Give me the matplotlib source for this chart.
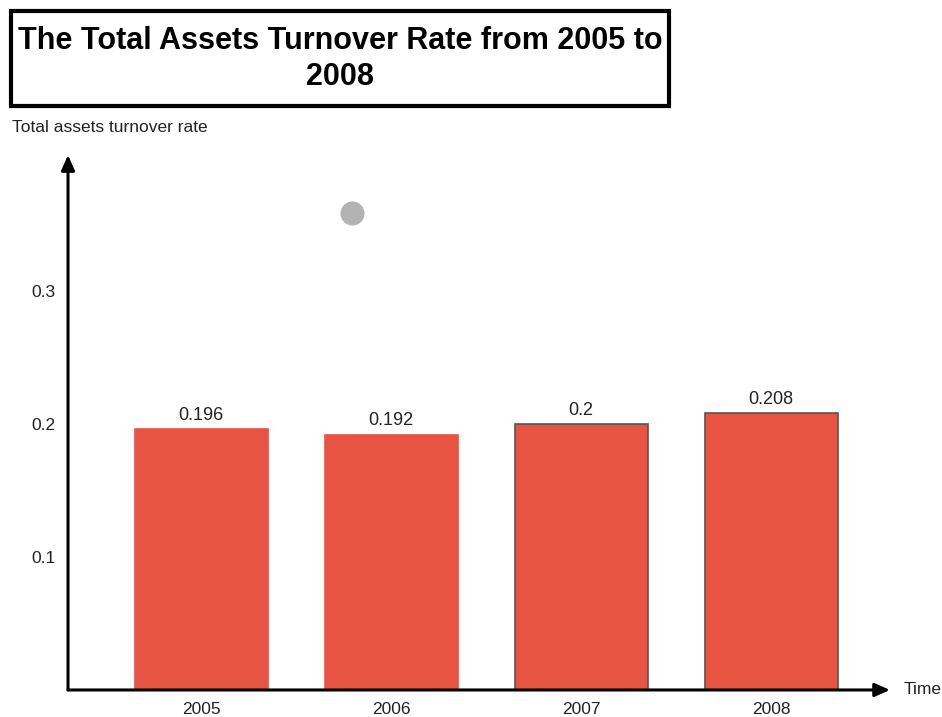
import matplotlib
matplotlib.use("Agg")
from matplotlib import pyplot as plt
from matplotlib.patches import Rectangle

plt.rcParams['font.family'] = ['Liberation Sans', 'DejaVu Sans']

years = ['2005', '2006', '2007', '2008']
turnover = [0.196, 0.192, 0.2, 0.208]
value_labels = ['0.196', '0.192', '0.2', '0.208']
y_ticks = [0.1, 0.2, 0.3]
dot_x = [0.795]
dot_y = [0.359]

bar_color = '#e85442'
edge_colors = [bar_color, bar_color, '#555555', '#555555']

fig = plt.figure(figsize=(9.42, 7.17), dpi=100)
ax = fig.add_axes([0.0722, 0.0377, 0.8726, 0.746])

xs = range(len(years))
bars = ax.bar(xs, turnover, width=0.7, color=bar_color, edgecolor=edge_colors, linewidth=1.2, zorder=2)
for b, lab in zip(bars, value_labels):
    ax.text(b.get_x() + b.get_width() / 2, b.get_height() + 0.004, lab,
            ha='center', va='bottom', fontsize=13, color='#222222')

ax.scatter(dot_x, dot_y, s=300, color='#b3b3b3', zorder=3, linewidths=0)

ax.set_xlim(-0.70, 3.626)
ax.set_ylim(0, 0.4023)
ax.set_xticks(list(xs))
ax.set_xticklabels(years, fontsize=12.5, color='#222222')
ax.set_yticks(y_ticks)
ax.set_yticklabels([str(t) for t in y_ticks], fontsize=12.5, color='#222222')
ax.tick_params(length=0, pad=9)
for s in ax.spines.values():
    s.set_visible(False)

# axis arrows
arrow = dict(arrowstyle='-|>,head_length=0.9,head_width=0.4', lw=2.2, color='black', shrinkA=0, shrinkB=0)
ax.annotate('', xy=(1.0, 0), xytext=(0, 0), xycoords='axes fraction', arrowprops=arrow, zorder=4)
ax.annotate('', xy=(0, 1.0), xytext=(0, 0), xycoords='axes fraction', arrowprops=arrow, zorder=4)

fig.text(904 / 942, 1 - 690 / 717, 'Time', ha='left', va='center', fontsize=12.5, color='#222222')
fig.text(12 / 942, 1 - 128 / 717, 'Total assets turnover rate', ha='left', va='center', fontsize=12.5, color='#222222')

# title box
fig.patches.append(Rectangle((11 / 942, 1 - 106 / 717), 658 / 942, 95 / 717, transform=fig.transFigure,
                             fill=False, edgecolor='black', linewidth=3))
fig.text(340 / 942, 1 - 59 / 717, 'The Total Assets Turnover Rate from 2005 to\n2008',
         ha='center', va='center', fontsize=22, fontweight='bold', linespacing=1.3)

fig.savefig('out.png', dpi=100)
